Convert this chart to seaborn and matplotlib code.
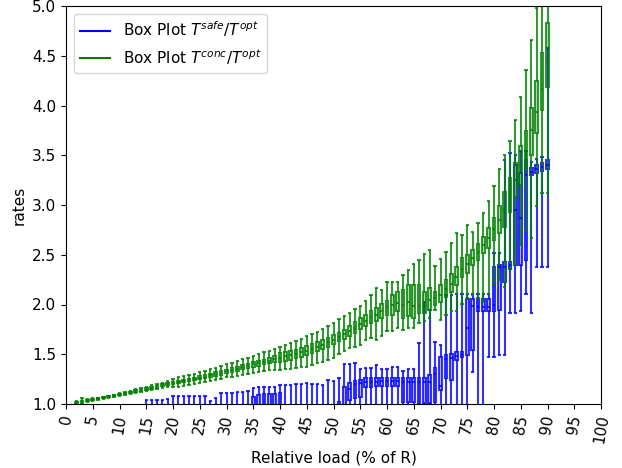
import matplotlib
matplotlib.use("Agg")
import matplotlib.pyplot as plt
from matplotlib.colors import to_rgba
from matplotlib.lines import Line2D
import pandas as pd
import seaborn as sns

# ---------------- data ----------------
conc_load = list(range(2, 91))
conc_wlo = [1.00, 1.00, 1.02, 1.03, 1.04, 1.05, 1.06, 1.07, 1.08,
            1.093, 1.100, 1.113, 1.120, 1.130, 1.140, 1.150, 1.160, 1.170, 1.170,
            1.175, 1.180, 1.190, 1.200, 1.210, 1.220, 1.230, 1.240, 1.255, 1.270,
            1.275, 1.280, 1.290, 1.300, 1.310, 1.320, 1.330, 1.340, 1.340, 1.340,
            1.350, 1.355, 1.360, 1.370, 1.375, 1.390, 1.410, 1.425, 1.440, 1.460,
            1.50, 1.53, 1.56, 1.575, 1.59, 1.64, 1.66, 1.64, 1.68, 1.73,
            1.73, 1.76, 1.74, 1.76, 1.76, 1.81, 1.83, 1.86, 1.94, 1.84,
            1.89, 1.93, 1.93, 2.01, 2.07, 2.10, 2.07, 2.03, 2.11, 2.21,
            2.25, 2.18, 2.36, 2.40, 2.60, 2.75, 2.67, 2.99, 3.12, 3.12]
conc_q1 = [1.010, 1.020, 1.030, 1.040, 1.047, 1.057, 1.067, 1.077, 1.087,
           1.100, 1.110, 1.122, 1.132, 1.142, 1.155, 1.165, 1.178, 1.190, 1.200,
           1.210, 1.218, 1.228, 1.238, 1.250, 1.260, 1.270, 1.283, 1.295, 1.310,
           1.320, 1.335, 1.350, 1.360, 1.375, 1.385, 1.400, 1.410, 1.420, 1.425,
           1.435, 1.447, 1.460, 1.475, 1.490, 1.510, 1.530, 1.550, 1.575, 1.605,
           1.630, 1.655, 1.680, 1.715, 1.750, 1.780, 1.810, 1.830, 1.860, 1.890,
           1.89, 1.93, 1.86, 1.88, 1.86, 1.91, 1.91, 1.94, 1.99, 2.03,
           2.08, 2.13, 2.20, 2.28, 2.32, 2.40, 2.45, 2.52, 2.57, 2.65,
           2.72, 2.78, 2.93, 3.08, 3.20, 3.37, 3.50, 3.72, 3.95, 4.19]
conc_med = [1.015, 1.027, 1.035, 1.045, 1.053, 1.063, 1.073, 1.083, 1.093,
            1.107, 1.117, 1.130, 1.140, 1.150, 1.164, 1.174, 1.188, 1.200, 1.212,
            1.222, 1.232, 1.242, 1.252, 1.265, 1.276, 1.288, 1.300, 1.313, 1.327,
            1.340, 1.355, 1.370, 1.383, 1.397, 1.410, 1.423, 1.435, 1.450, 1.465,
            1.478, 1.490, 1.503, 1.518, 1.535, 1.555, 1.575, 1.595, 1.620, 1.648,
            1.672, 1.700, 1.730, 1.765, 1.800, 1.830, 1.870, 1.890, 1.930, 1.970,
            2.00, 2.02, 2.00, 2.03, 1.98, 1.98, 1.98, 2.05, 2.07, 2.10,
            2.16, 2.21, 2.28, 2.36, 2.41, 2.47, 2.53, 2.60, 2.67, 2.76,
            2.85, 2.95, 3.10, 3.25, 3.40, 3.50, 3.75, 3.93, 4.17, 4.45]
conc_q3 = [1.020, 1.035, 1.040, 1.050, 1.058, 1.068, 1.078, 1.088, 1.100,
           1.113, 1.123, 1.137, 1.147, 1.158, 1.172, 1.182, 1.196, 1.210, 1.225,
           1.235, 1.245, 1.256, 1.266, 1.280, 1.292, 1.305, 1.317, 1.330, 1.345,
           1.360, 1.375, 1.390, 1.405, 1.420, 1.435, 1.447, 1.460, 1.485, 1.510,
           1.520, 1.533, 1.547, 1.562, 1.580, 1.600, 1.620, 1.640, 1.665, 1.690,
           1.715, 1.745, 1.780, 1.820, 1.860, 1.890, 1.930, 1.960, 2.010, 2.040,
           2.10, 2.13, 2.15, 2.20, 2.20, 2.20, 2.13, 2.17, 2.13, 2.20,
           2.25, 2.31, 2.38, 2.47, 2.50, 2.55, 2.61, 2.68, 2.77, 2.87,
           2.99, 3.13, 3.27, 3.42, 3.59, 3.74, 3.97, 4.25, 4.53, 4.83]
conc_whi = [1.030, 1.060, 1.050, 1.060, 1.065, 1.075, 1.085, 1.095, 1.107,
            1.120, 1.133, 1.147, 1.160, 1.170, 1.188, 1.200, 1.215, 1.230, 1.250,
            1.270, 1.280, 1.290, 1.305, 1.325, 1.335, 1.350, 1.365, 1.380, 1.400,
            1.415, 1.430, 1.450, 1.465, 1.480, 1.500, 1.520, 1.535, 1.550, 1.575,
            1.59, 1.61, 1.63, 1.655, 1.68, 1.70, 1.725, 1.75, 1.78, 1.81,
            1.85, 1.88, 1.91, 1.95, 1.98, 2.04, 2.10, 2.17, 2.15, 2.23,
            2.23, 2.23, 2.30, 2.35, 2.41, 2.45, 2.51, 2.55, 2.39, 2.46,
            2.53, 2.62, 2.72, 2.70, 2.80, 2.73, 2.82, 2.92, 3.04, 3.19,
            3.36, 3.50, 3.64, 3.85, 4.09, 4.36, 4.66, 4.98, 5.30, 5.60]

safe_load = list(range(15, 91))
safe_wlo = ([0.90] * 61 +
            [1.325, 0.90, 0.90, 1.475, 1.475, 1.49, 1.49, 1.91, 1.91, 1.93,
             2.11, 1.91, 2.38, 2.38, 2.38])
safe_q1 = ([0.93] * 20 + [0.95] * 6 + [0.93] * 10 +
           [0.97, 0.97, 1.04, 1.06, 1.07,
            1.17, 1.17, 1.18, 1.18, 1.18, 1.18, 1.18,
            1.02, 1.02, 1.02, 1.01, 1.01, 1.01,
            1.02, 1.14, 1.26, 1.24, 1.44, 1.47, 1.49, 1.54, 1.93, 1.93,
            1.93, 1.93, 1.94, 2.23, 2.36, 2.40, 2.40, 2.45, 3.30, 3.32,
            3.34, 3.36])
safe_med = ([0.96] * 20 + [0.98] * 6 + [0.96] * 10 +
            [0.99, 0.99, 1.15, 1.20, 1.21,
             1.22, 1.22, 1.22, 1.23, 1.23, 1.23, 1.23,
             1.22, 1.22, 1.22, 1.22, 1.22, 1.22,
             1.30, 1.18, 1.45, 1.46, 1.48, 1.49, 1.76, 1.98, 1.97, 1.97,
             1.97, 2.00, 2.38, 2.38, 2.40, 2.95, 2.87, 3.30, 3.33, 3.36,
             3.38, 3.40])
safe_q3 = ([0.98] * 20 +
           [1.074, 1.087, 1.10, 1.097, 1.097, 1.11] +
           [0.98] * 10 +
           [1.02, 1.17, 1.21, 1.23, 1.24,
            1.26, 1.26, 1.26, 1.26, 1.26, 1.26, 1.26,
            1.26, 1.26, 1.26, 1.26, 1.26, 1.29,
            1.36, 1.475, 1.49, 1.50, 1.525, 1.52, 2.06, 2.06, 2.06, 2.06,
            2.06, 2.38, 2.40, 2.43, 2.43, 3.40, 3.32, 3.45, 3.37, 3.40,
            3.42, 3.45])
safe_whi = [1.04, 1.04, 1.04, 1.045, 1.05,
            1.083, 1.083, 1.083, 1.083, 1.083, 1.083, 1.083,
            1.03, 1.057, 1.107, 1.11, 1.11, 1.12, 1.12, 1.127,
            1.158, 1.168, 1.17, 1.175, 1.17, 1.19,
            1.19, 1.195, 1.20, 1.20, 1.21, 1.205, 1.20, 1.195, 1.24, 1.23,
            1.26, 1.40, 1.40, 1.41, 1.35,
            1.36, 1.36, 1.39, 1.35, 1.35, 1.37, 1.37,
            1.33, 1.35, 1.35, 1.61, 2.03, 1.94, 1.62, 1.59,
            2.10, 2.10, 2.11, 2.11, 2.11, 2.11, 2.11, 2.11, 2.11, 2.52,
            2.52, 3.45, 3.52, 3.50, 3.54, 3.54, 3.43, 3.46, 3.48, 4.58]

xtick_values = list(range(0, 101, 5))
ytick_values = [1.0, 1.5, 2.0, 2.5, 3.0, 3.5, 4.0, 4.5, 5.0]
series_labels = [r"Box Plot $T^{safe}/T^{opt}$", r"Box Plot $T^{conc}/T^{opt}$"]
series_colors = ["blue", "green"]


def long_form(load, *cols):
    rows = []
    for i, L in enumerate(load):
        for c in cols:
            rows.append((L, c[i]))
    return pd.DataFrame(rows, columns=["load", "rate"])


safe_df = long_form(safe_load, safe_wlo, safe_q1, safe_med, safe_q3, safe_whi)
conc_df = long_form(conc_load, conc_wlo, conc_q1, conc_med, conc_q3, conc_whi)

plt.rcParams["font.family"] = ["DejaVu Sans"]
plt.rcParams["font.size"] = 11
fig = plt.figure(figsize=(6.22, 4.68), dpi=100)
ax = fig.add_axes([66 / 622, 1 - 404 / 468, 535 / 622, 398 / 468])


def draw(df, color):
    line = to_rgba(color, 0.8)
    face = to_rgba(color, 0.25)
    sns.boxplot(data=df, x="load", y="rate", native_scale=True, whis=(0, 100),
                width=0.5, color=color, linewidth=1.5, showfliers=False, ax=ax,
                boxprops=dict(facecolor=face, edgecolor=line),
                whiskerprops=dict(color=line),
                capprops=dict(color=line),
                medianprops=dict(color=line))


draw(safe_df, series_colors[0])
draw(conc_df, series_colors[1])

ax.set_xlim(0, 100)
ax.set_ylim(1.0, 5.0)
ax.set_xticks(xtick_values)
ax.set_xticklabels([str(v) for v in xtick_values], rotation=80)
ax.set_yticks(ytick_values)
ax.set_yticklabels([f"{v:.1f}" for v in ytick_values])
ax.set_xlabel("Relative load (% of R)")
ax.set_ylabel("rates")

handles = [Line2D([], [], color=c) for c in series_colors]
ax.legend(handles, series_labels, loc="upper left")

fig.savefig("out.png", dpi=100)
